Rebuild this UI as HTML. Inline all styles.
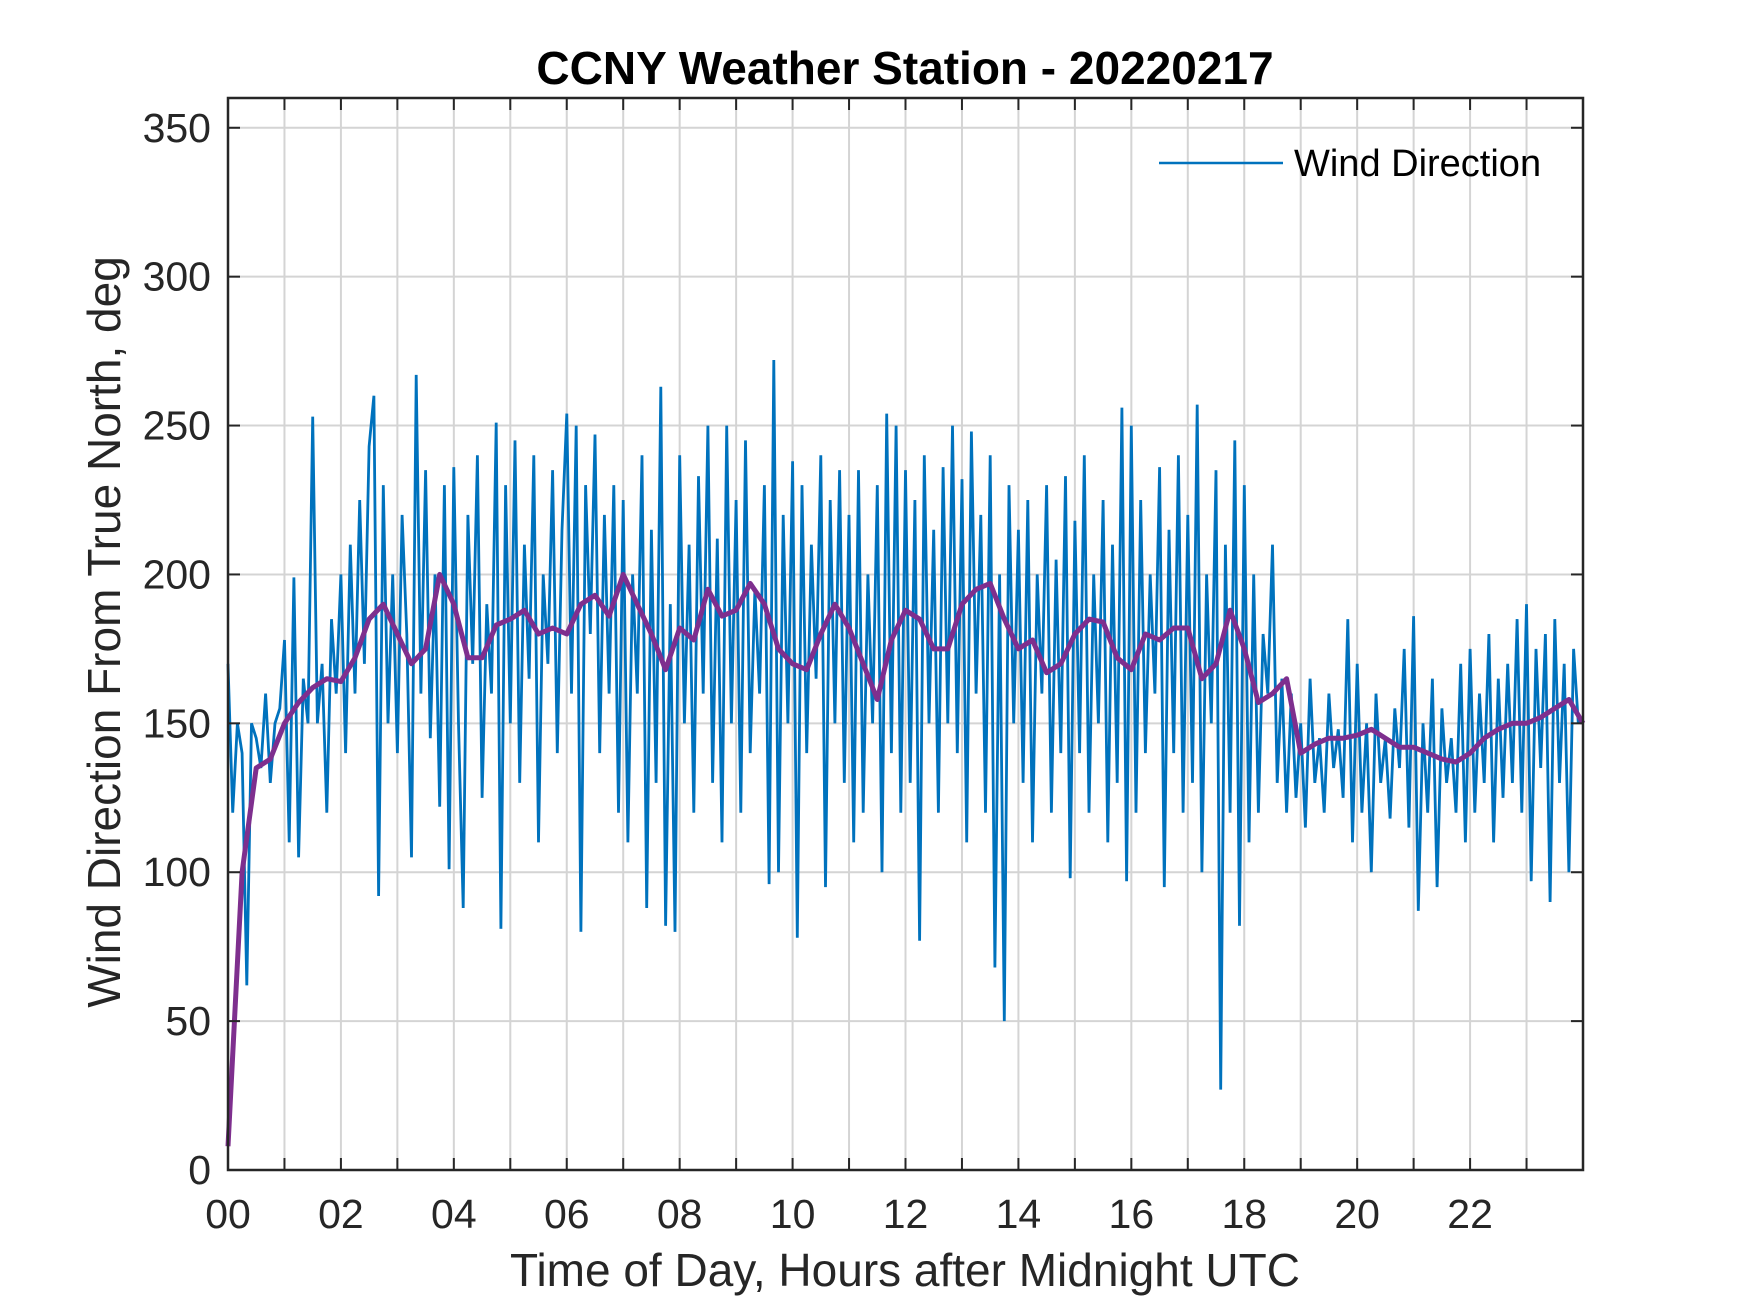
<!DOCTYPE html>
<html><head><meta charset="utf-8"><style>
html,body{margin:0;padding:0;background:#fff;}
svg{display:block;font-family:"Liberation Sans",Arial,sans-serif;}
</style></head><body>
<svg id="chart" width="1750" height="1313" viewBox="0 0 1750 1313">
<rect width="1750" height="1313" fill="#fff"/>
<text x="905" y="84" text-anchor="middle" font-size="46" font-weight="bold" fill="#000">CCNY Weather Station - 20220217</text>
<g id="grid"></g>
<g id="series"></g>
<g id="axes"></g>
<text x="905" y="1286" text-anchor="middle" font-size="46" fill="#262626">Time of Day, Hours after Midnight UTC</text>
<text transform="translate(120,632) rotate(-90)" text-anchor="middle" font-size="46" fill="#262626">Wind Direction From True North, deg</text>
<g>
<line x1="1159" y1="163" x2="1283" y2="163" stroke="#0072BD" stroke-width="2.5"/>
<text x="1294" y="176" font-size="38" fill="#000">Wind Direction</text>
</g>
</svg>
<script>
const xTickLabels = ["00","02","04","06","08","10","12","14","16","18","20","22"];
const yTickValues = [0,50,100,150,200,250,300,350];
const windRaw = [
170,120,150,140,62,150,145,135,160,130,150,155,
178,110,199,105,165,150,253,150,170,120,185,160,
200,140,210,160,225,170,243,260,92,230,150,200,
140,220,180,105,267,160,235,145,200,122,230,101,
236,150,88,220,170,240,125,190,160,251,81,230,
150,245,130,210,165,240,110,200,170,235,140,215,
254,160,250,80,230,180,247,140,220,160,230,120,
225,110,200,160,240,88,215,130,263,82,190,80,
240,150,210,120,233,160,250,130,212,110,250,150,
225,120,245,140,195,160,230,96,272,100,220,150,
238,78,230,140,210,165,240,95,225,150,235,130,
220,110,235,120,200,150,230,100,254,140,250,120,
235,130,225,77,240,150,215,120,236,150,250,140,
232,110,248,160,220,120,240,68,200,50,230,150,
215,130,225,110,200,160,230,120,205,140,233,98,
218,140,240,120,200,150,225,110,210,130,256,97,
250,120,225,140,200,160,236,95,215,140,240,120,
220,130,257,100,200,150,235,27,210,120,245,82,
230,110,200,120,180,160,210,130,165,120,160,125,
150,115,165,130,145,120,160,135,148,125,185,110,
170,120,150,100,160,130,145,118,155,135,175,115,
186,87,150,120,165,95,155,130,145,120,170,110,
175,120,160,130,180,110,165,125,170,130,185,120,
190,97,175,135,180,90,185,130,170,100,175,150];
const windSmooth = [8,100,135,138,150,157,162,165,164,172,185,190,180,170,175,200,190,172,172,183,185,188,180,182,180,190,193,186,200,190,180,168,182,178,195,186,188,197,190,175,170,168,180,190,182,170,158,178,188,185,175,175,190,195,197,185,175,178,167,170,180,185,184,172,168,180,178,182,182,165,170,188,175,157,160,165,140,143,145,145,146,148,145,142,142,140,138,137,140,145,148,150,150,152,155,158,150];

const NS="http://www.w3.org/2000/svg";
const L=228,R=1583,T=98,B=1170,XMAX=24,YMAX=360;
const xs=h=>L+(h/XMAX)*(R-L);
const ys=v=>B-(v/YMAX)*(B-T);
const grid=document.getElementById('grid'),series=document.getElementById('series'),axes=document.getElementById('axes');
function mk(tag,attrs,parent){const e=document.createElementNS(NS,tag);for(const k in attrs)e.setAttribute(k,attrs[k]);parent.appendChild(e);return e;}
for(let h=0;h<=XMAX;h++){
  const g=mk('line',{x1:xs(h),x2:xs(h),y1:T,y2:B,stroke:'#d4d4d4','stroke-width':2},grid);
  
  
  const t1=mk('line',{x1:xs(h),x2:xs(h),y1:B,y2:B-12,stroke:'#262626','stroke-width':2},axes);
  
  
  const t2=mk('line',{x1:xs(h),x2:xs(h),y1:T,y2:T+12,stroke:'#262626','stroke-width':2},axes);
  
  
}
xTickLabels.forEach((lab,i)=>{
  const t=mk('text',{x:xs(i*2),y:1228,'text-anchor':'middle','font-size':41,fill:'#262626'},axes);
  t.textContent=lab;
  
  
});
yTickValues.forEach(v=>{
  const g=mk('line',{x1:L,x2:R,y1:ys(v),y2:ys(v),stroke:'#d4d4d4','stroke-width':2},grid);
  
  
  const t1=mk('line',{x1:L,x2:L+12,y1:ys(v),y2:ys(v),stroke:'#262626','stroke-width':2},axes);
  
  
  const t2=mk('line',{x1:R,x2:R-12,y1:ys(v),y2:ys(v),stroke:'#262626','stroke-width':2},axes);
  
  
  const t=mk('text',{x:211,y:ys(v)+14,'text-anchor':'end','font-size':41,fill:'#262626'},axes);
  t.textContent=String(v);
  
  
});
const rawPts=windRaw.map((v,i)=>xs(i*XMAX/windRaw.length).toFixed(1)+','+ys(v).toFixed(1)).join(' ');
const raw=mk('polyline',{points:rawPts,fill:'none',stroke:'#0072BD','stroke-width':2.8},series);


const smPts=windSmooth.map((v,i)=>xs(i*XMAX/(windSmooth.length-1)).toFixed(1)+','+ys(v).toFixed(1)).join(' ');
const sm=mk('polyline',{points:smPts,fill:'none',stroke:'#7E2F8E','stroke-width':5,'stroke-linejoin':'round'},series);


const box=mk('rect',{x:L,y:T,width:R-L,height:B-T,fill:'none',stroke:'#262626','stroke-width':2.5},axes);


</script>
</body></html>
